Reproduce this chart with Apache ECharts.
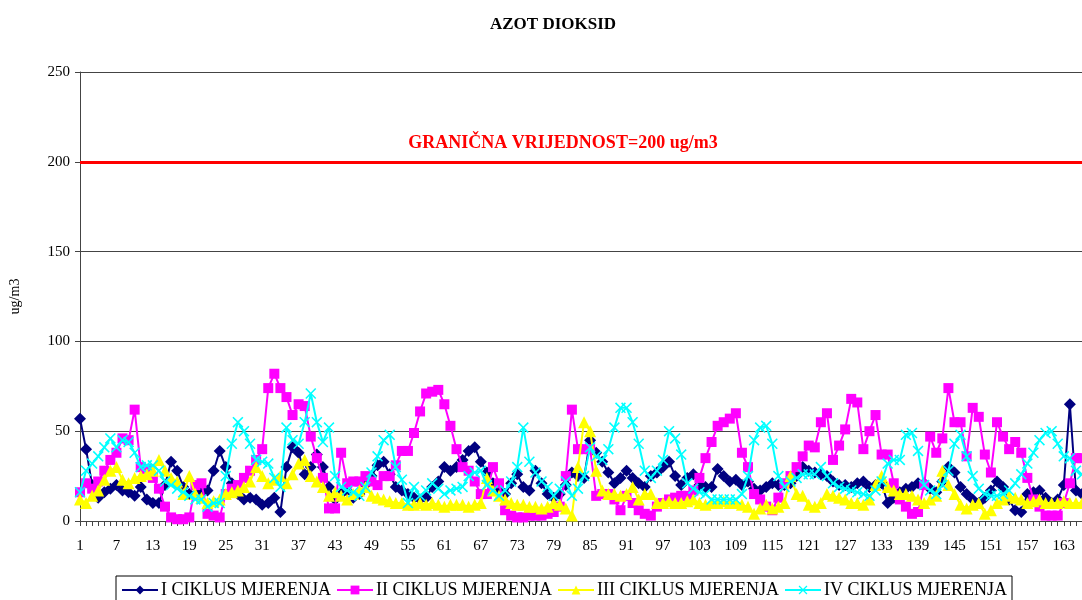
<!DOCTYPE html>
<html>
<head>
<meta charset="utf-8">
<script src="https://cdn.jsdelivr.net/npm/echarts@6/dist/echarts.min.js"></script>
<style>
  html, body { margin: 0; padding: 0; background: #fff; }
  #main { width: 1082px; height: 600px; }
</style>
</head>
<body>
<div id="main"></div>
<script>
// dani mjerenja 1..166
var days = [];
for (var d = 1; d <= 166; d++) days.push(String(d));

var seriesNames = ['I CIKLUS MJERENJA', 'II CIKLUS MJERENJA', 'III CIKLUS MJERENJA', 'IV CIKLUS MJERENJA'];
var limitValue = 200;
var limitText = 'GRANIČNA VRIJEDNOST=200 ug/m3';

// I ciklus
var cycle1 = [57,40,20,13,16,18,20,17,16,14, 19,12,10,10,20,33,28,19,15,15,
  16,17,28,39,30,21,15,12,13,12, 9,10,13,5,30,41,38,26,30,37,
  30,19,12,15,17,13,15,20,25,31, 33,26,19,17,15,13,12,13,19,22,
  30,28,30,34,39,41,33,27,21,18, 15,21,26,19,17,28,21,15,13,15,
  20,27,25,24,45,38,33,27,21,24, 28,24,21,19,25,27,30,33,25,20,
  24,26,20,19,19,29,25,22,23,20, 22,18,17,19,21,20,20,21,25,30,
  28,27,26,25,22,20,20,19,21,22, 19,20,21,10,13,16,18,19,21,21,
  18,16,22,30,27,19,15,12,10,13, 17,22,19,12,6,5,15,16,17,13,
  10,12,20,65,17,15];
// II ciklus
var cycle2 = [16,21,18,22,28,34,38,46,45,62, 30,29,24,18,8,2,1,1,2,20,
  21,4,3,2,15,18,20,24,28,34, 40,74,82,74,69,59,65,64,47,35,
  24,7,7,38,21,22,22,25,22,20, 25,25,31,39,39,49,61,71,72,73,
  65,53,40,30,28,22,15,15,30,21, 6,3,2,2,3,3,3,4,5,8,
  25,62,40,40,40,14,15,15,12,6, 14,10,6,4,3,8,10,12,13,14,
  14,17,24,35,44,53,55,57,60,38, 30,15,12,8,6,13,21,25,30,36,
  42,41,55,60,34,42,51,68,66,40, 50,59,37,37,21,12,8,4,5,20,
  47,38,46,74,55,55,36,63,58,37, 27,55,47,40,44,38,24,12,8,3,
  3,3,10,21,35,35];
// III ciklus
var cycle3 = [12,10,14,17,23,28,30,23,21,24, 25,26,28,34,28,24,22,15,25,15,
  13,10,11,12,15,16,17,19,22,30, 25,21,23,25,21,26,32,34,25,22,
  19,14,16,14,12,15,17,19,14,13, 12,11,10,10,9,9,10,9,10,9,
  8,9,9,9,8,9,10,24,17,14, 12,10,9,9,8,8,7,8,10,9,
  7,3,30,55,50,28,17,15,15,14, 15,19,12,15,15,10,10,11,10,10,
  11,12,10,9,10,10,11,10,10,9, 8,4,7,9,7,8,10,25,15,14,
  9,8,10,15,14,13,12,10,10,9, 12,20,25,19,17,15,15,14,12,10,
  12,14,28,20,15,9,7,9,10,4, 6,10,12,14,13,12,10,11,12,10,
  10,10,11,10,10,10];
// IV ciklus
var cycle4 = [16,28,32,36,41,46,41,45,44,38, 30,31,31,28,22,20,18,16,14,12,
  12,8,10,10,25,43,55,50,43,34, 33,32,24,19,52,45,43,55,71,55,
  44,52,25,19,17,16,14,19,27,36, 45,48,30,23,10,19,14,17,21,18,
  15,17,18,19,25,27,28,20,17,14, 17,22,30,52,33,27,22,19,14,18,
  22,14,18,25,41,36,34,40,52,63, 63,55,43,28,24,28,34,50,46,37,
  21,18,16,15,12,12,12,12,12,15, 25,45,52,53,43,25,19,22,24,26,
  26,26,30,25,21,19,18,17,16,15, 14,17,22,32,34,34,48,49,39,20,
  17,15,20,28,43,48,36,25,18,15, 14,14,15,17,21,26,32,38,45,49,
  50,43,36,35,28,26];

var yTicks = { min: 0, max: 250, step: 50 };

var colors = ['#000080', '#ff00ff', '#ffff00', '#00ffff'];
var symbols = ['diamond', 'rect', 'triangle',
  'path://M0,1L1,0L5,4L9,0L10,1L6,5L10,9L9,10L5,6L1,10L0,9L4,5Z'];
var sizes = [12, 10, 12, 11];
var allData = [cycle1, cycle2, cycle3, cycle4];

var serif = '"Liberation Serif", "DejaVu Serif", serif';

var myChart = echarts.init(document.getElementById('main'));

var series = seriesNames.map(function (name, i) {
  var s = {
    name: name,
    type: 'line',
    data: allData[i],
    symbol: symbols[i],
    symbolSize: sizes[i],
    showAllSymbol: true,
    lineStyle: { color: colors[i], width: 2 },
    itemStyle: { color: colors[i] },
    z: 2 + i
  };
  if (i === 0) {
    // granicna vrijednost
    s.markLine = {
      silent: true,
      symbol: 'none',
      lineStyle: { color: '#ff0000', width: 3, type: 'solid' },
      label: {
        show: true,
        position: 'middle',
        distance: 9,
        padding: [0, 36, 0, 0],
        formatter: limitText,
        color: '#ff0000',
        fontFamily: serif,
        fontWeight: 'bold',
        fontSize: 18
      },
      data: [{ yAxis: limitValue }]
    };
  }
  return s;
});

var option = {
  animation: false,
  backgroundColor: '#fff',
  color: colors,
  title: {
    text: 'AZOT DIOKSID',
    left: 485,
    top: 11,
    textStyle: { fontFamily: serif, fontWeight: 'bold', fontSize: 17, color: '#000' }
  },
  legend: {
    data: seriesNames,
    top: 576,
    left: 116,
    padding: [5, 5, 6, 5],
    itemGap: 5,
    itemWidth: 36,
    itemHeight: 11,
    borderColor: '#000',
    borderWidth: 1,
    textStyle: { fontFamily: serif, fontSize: 18, color: '#000', padding: [0, 0, 0, -2] }
  },
  grid: { left: 79, right: 0, top: 72, bottom: 79, containLabel: false },
  xAxis: {
    type: 'category',
    data: days,
    boundaryGap: false,
    axisLine: { lineStyle: { color: '#444', width: 1 } },
    axisTick: { interval: 0, length: 5, lineStyle: { color: '#444' } },
    axisLabel: { interval: 5, margin: 18, fontFamily: serif, fontSize: 15, color: '#000' },
    splitLine: { show: false }
  },
  yAxis: {
    type: 'value',
    min: yTicks.min,
    max: yTicks.max,
    interval: yTicks.step,
    name: 'ug/m3',
    nameLocation: 'middle',
    nameGap: 58,
    nameRotate: 90,
    nameTextStyle: { fontFamily: serif, fontSize: 14, color: '#000' },
    axisLine: { show: true, lineStyle: { color: '#444', width: 1 } },
    axisTick: { show: true, length: 5, lineStyle: { color: '#444' } },
    axisLabel: { margin: 10, fontFamily: serif, fontSize: 15, color: '#000' },
    splitLine: { show: true, lineStyle: { color: '#444', width: 1 } }
  },
  series: series
};

myChart.setOption(option);
</script>
</body>
</html>
